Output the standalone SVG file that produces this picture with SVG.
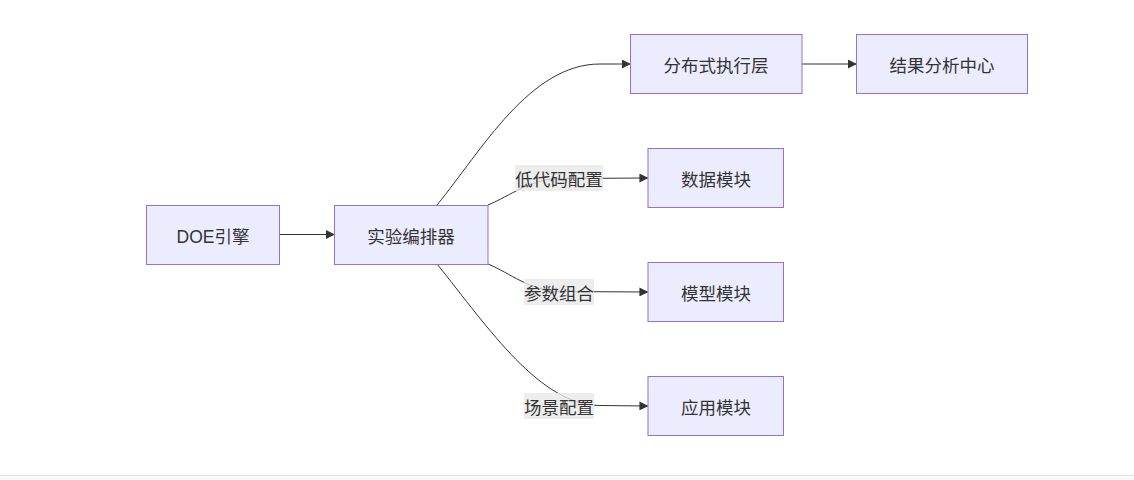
<svg xmlns="http://www.w3.org/2000/svg" width="1134" height="480" viewBox="0 0 1134 480">
<defs>
<style>
.node rect{fill:#ECECFF;stroke:#9370DB;stroke-width:1}
.node text,.lbl text{font-family:"Liberation Sans","Noto Sans CJK SC",sans-serif;font-size:17.5px;fill:#333;text-anchor:middle;dominant-baseline:central}
.edge{fill:none;stroke:#333;stroke-width:1}
.lbl rect{fill:#e8e8e8;opacity:0.8}
</style>
<marker id="arr" viewBox="0 0 10 10" refX="9" refY="5" markerWidth="9" markerHeight="9" markerUnits="userSpaceOnUse" orient="auto">
<path d="M0,0 L10,5 L0,10 z" fill="#333"/>
</marker>
</defs>
<rect x="0" y="0" width="1134" height="480" fill="#fff"/>
<rect x="0" y="475" width="1134" height="5" fill="#fafafa"/>
<line x1="0" y1="475.5" x2="1134" y2="475.5" stroke="#e0e0e0" stroke-width="1"/>
<g id="connectors">
<path class="edge" d="M280,234.5 L334,234.5" marker-end="url(#arr)"/>
<path class="edge" d="M437,205 C482,150 530,64 600,64 L630,64" marker-end="url(#arr)"/>
<path class="edge" d="M488,205 C510,196 530,179 560,178.5 L647.5,178" marker-end="url(#arr)"/>
<path class="edge" d="M488,264 C510,273 530,291 560,291.5 L647.5,292" marker-end="url(#arr)"/>
<path class="edge" d="M437,264 C490,330 540,405 600,405.5 L647.5,406" marker-end="url(#arr)"/>
<path class="edge" d="M802,64 L856,64" marker-end="url(#arr)"/>
</g>
<g id="edge-labels">
<g class="lbl" id="lbl-lowcode"><rect x="515" y="165" width="88" height="26"/><text x="559" y="179.5">低代码配置</text></g>
<g class="lbl" id="lbl-params"><rect x="524" y="279" width="70" height="26"/><text x="559" y="293.5">参数组合</text></g>
<g class="lbl" id="lbl-scene"><rect x="524" y="393" width="70" height="26"/><text x="559" y="407.5">场景配置</text></g>
</g>
<g class="node" id="n-doe"><rect x="146.5" y="205.5" width="133" height="59"/><text x="213" y="236.5">DOE引擎</text></g>
<g class="node" id="n-orch"><rect x="334.5" y="205.5" width="153.5" height="59"/><text x="411" y="236.5">实验编排器</text></g>
<g class="node" id="n-dist"><rect x="630.5" y="34.5" width="171.5" height="59"/><text x="716" y="65.5">分布式执行层</text></g>
<g class="node" id="n-result"><rect x="856.5" y="34.5" width="171" height="59"/><text x="942" y="65.5">结果分析中心</text></g>
<g class="node" id="n-data"><rect x="648" y="148.5" width="135.5" height="59"/><text x="716" y="179.5">数据模块</text></g>
<g class="node" id="n-model"><rect x="648" y="262.5" width="135.5" height="59"/><text x="716" y="293.5">模型模块</text></g>
<g class="node" id="n-app"><rect x="648" y="376.5" width="135.5" height="59"/><text x="716" y="407.5">应用模块</text></g>
</svg>
